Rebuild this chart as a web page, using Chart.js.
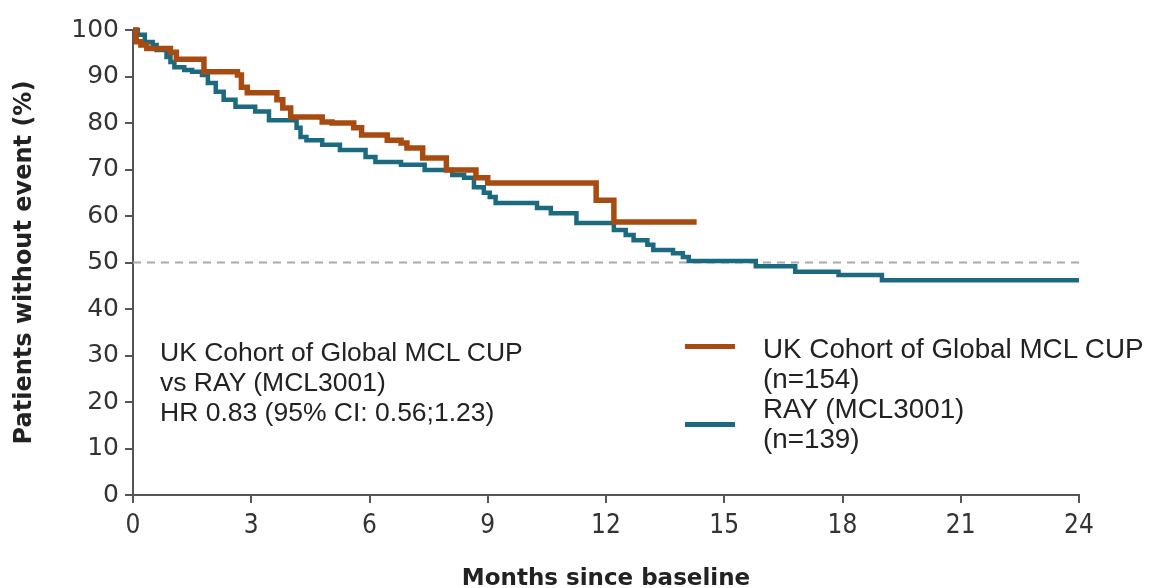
<!DOCTYPE html>
<html>
<head>
<meta charset="utf-8">
<script src="https://cdn.jsdelivr.net/npm/chart.js@4.4.1/dist/chart.umd.min.js"></script>
<style>
  html, body { margin: 0; padding: 0; background: #fff; overflow: hidden; }
  #wrap { position: relative; width: 1152px; height: 588px; }
  #chart { position: absolute; left: 0; top: 0; }
  .note {
    position: absolute; left: 160px; top: 337px;
    font-family: "Liberation Sans", Arial, sans-serif;
    font-size: 26.5px; line-height: 30px; color: #222; white-space: nowrap;
  }
  .legend {
    position: absolute; left: 763px; top: 334px;
    font-family: "Liberation Sans", Arial, sans-serif;
    font-size: 27.8px; line-height: 30px; color: #222; white-space: nowrap;
  }
  .swatch { position: absolute; left: 685px; width: 50px; height: 5px; }
</style>
</head>
<body>
<div id="wrap">
  <canvas id="chart" width="1152" height="588"></canvas>
  <div class="note">UK Cohort of Global MCL CUP<br>vs RAY (MCL3001)<br>HR 0.83 (95% CI: 0.56;1.23)</div>
  <div class="swatch" style="top:344px; background:#a84b11;"></div>
  <div class="swatch" style="top:422px; background:#1b6a80;"></div>
  <div class="legend">UK Cohort of Global MCL CUP<br>(n=154)<br>RAY (MCL3001)<br>(n=139)</div>
</div>
<script>
// Kaplan-Meier steps (months, % without event)
const ukMonths = [0, 0.08, 0.2, 0.35, 0.95, 1.1, 1.8, 2.65, 2.75, 2.9, 3.65, 3.8, 4.0, 4.8, 5.05, 5.6, 5.8, 6.45, 6.8, 6.95, 7.35, 7.95, 8.7, 9.0, 11.75, 12.2, 14.3];
const ukSurv   = [100, 97.5, 96.8, 96, 95.2, 93.7, 91, 90.3, 87.7, 86.5, 85, 83.2, 81.3, 80.2, 80, 79, 77.4, 76.3, 75.7, 74.6, 72.5, 69.9, 68.2, 67.1, 63.4, 58.7, 58.7];

const rayMonths = [0, 0.12, 0.3, 0.5, 0.6, 0.85, 0.95, 1.05, 1.3, 1.5, 1.75, 1.9, 2.1, 2.3, 2.6, 3.1, 3.45, 4.15, 4.25, 4.4, 4.8, 5.25, 5.9, 6.15, 6.8, 7.4, 8.1, 8.4, 8.65, 8.9, 9.05, 9.2, 10.25, 10.6, 11.25, 12.2, 12.5, 12.7, 13.05, 13.2, 13.7, 13.95, 14.1, 15.8, 16.8, 17.9, 19.0, 24.0];
const raySurv   = [100, 99, 97.4, 96.8, 95.7, 94.2, 93.1, 92, 91.4, 91, 90.3, 88.6, 86.7, 85, 83.5, 82.5, 80.6, 79, 77, 76.3, 75.3, 74.2, 72.7, 71.6, 71, 69.9, 68.8, 68.2, 66.2, 65, 64.1, 62.8, 61.7, 60.6, 58.5, 57, 55.9, 54.8, 53.8, 52.7, 52, 51.2, 50.3, 49.2, 48, 47.3, 46.2, 46.2];

const medianLine = [50, 50];
const medianMonths = [0, 24];

const xTicks = [0, 3, 6, 9, 12, 15, 18, 21, 24];
const yTicks = [0, 10, 20, 30, 40, 50, 60, 70, 80, 90, 100];

const toPts = (xs, ys) => xs.map((x, i) => ({ x: x, y: ys[i] }));

new Chart(document.getElementById("chart").getContext("2d"), {
  type: "line",
  data: {
    datasets: [
      { label: "50%", data: toPts(medianMonths, medianLine), borderColor: "#aaaaaa",
        borderWidth: 2, borderDash: [8, 6], pointRadius: 0, order: 3 },
      { label: "RAY (MCL3001) (n=139)", data: toPts(rayMonths, raySurv), borderColor: "#1b6a80",
        borderWidth: 4.5, stepped: true, pointRadius: 0, clip: 6, order: 2 },
      { label: "UK Cohort of Global MCL CUP (n=154)", data: toPts(ukMonths, ukSurv), borderColor: "#a84b11",
        borderWidth: 5.5, stepped: true, pointRadius: 0, clip: 6, order: 1 }
    ]
  },
  options: {
    responsive: false,
    animation: false,
    layout: { padding: { top: 30, right: 73, left: 0, bottom: 0 } },
    plugins: { legend: { display: false }, tooltip: { enabled: false } },
    scales: {
      x: {
        type: "linear", min: 0, max: 24,
        afterBuildTicks: s => { s.ticks = xTicks.map(v => ({ value: v })); },
        afterFit: s => { s.height = 93; },
        ticks: { color: "#333", padding: 8,
          font: { family: "'DejaVu Sans Condensed', sans-serif", size: 26 } },
        grid: { drawOnChartArea: false, drawTicks: true, tickLength: 8, color: "#555", lineWidth: 2 },
        border: { color: "#555", width: 2 },
        title: { display: true, text: "Months since baseline", color: "#222", padding: { top: 0, bottom: -3 },
          font: { family: "'DejaVu Sans', sans-serif", size: 23, weight: "bold", lineHeight: 1 } }
      },
      y: {
        min: 0, max: 100,
        afterBuildTicks: s => { s.ticks = yTicks.map(v => ({ value: v })); },
        afterFit: s => { s.width = 133; },
        ticks: { color: "#333", padding: 6,
          font: { family: "'DejaVu Sans', sans-serif", size: 25 } },
        grid: { drawOnChartArea: false, drawTicks: true, tickLength: 8, color: "#555", lineWidth: 2 },
        border: { color: "#555", width: 2 },
        title: { display: true, text: "Patients without event (%)", color: "#222",
          padding: { top: 12, bottom: 0 },
          font: { family: "'DejaVu Sans', sans-serif", size: 24, weight: "bold", lineHeight: 1.05 } }
      }
    }
  }
});
</script>
</body>
</html>
